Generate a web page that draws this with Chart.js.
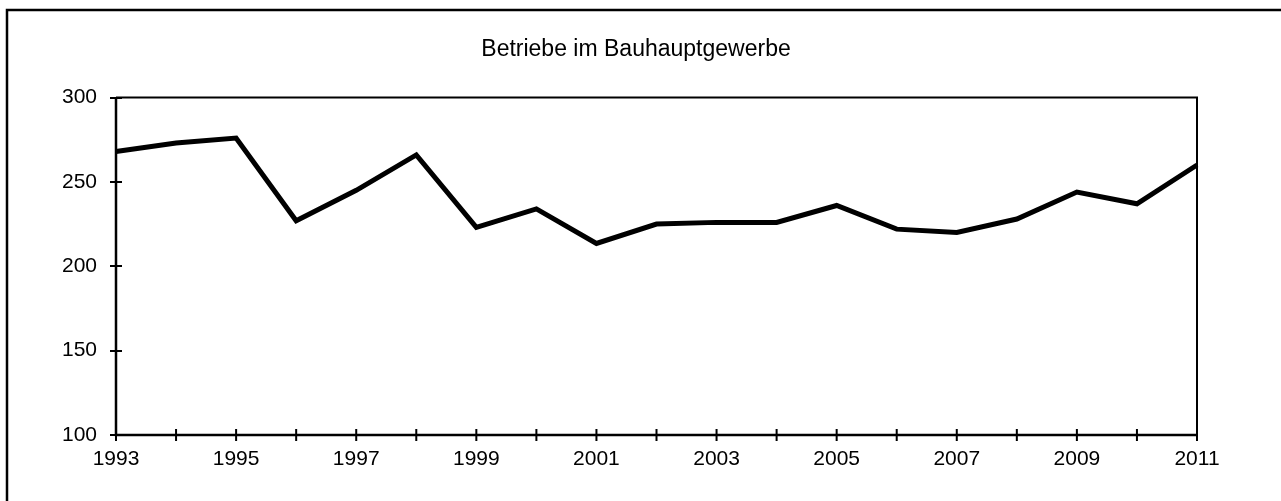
<!DOCTYPE html>
<html>
<head>
<meta charset="utf-8">
<script src="https://cdn.jsdelivr.net/npm/chart.js@4"></script>
<style>
  html, body { margin: 0; padding: 0; background: #fff; }
  #wrap { width: 1281px; height: 501px; position: relative; }
</style>
</head>
<body>
<div id="wrap"><canvas id="c" width="1281" height="501"></canvas></div>
<script>
const chartTitle = "Betriebe im Bauhauptgewerbe";
const years = ["1993","1994","1995","1996","1997","1998","1999","2000","2001","2002","2003","2004","2005","2006","2007","2008","2009","2010","2011"];
const betriebe = [268, 273, 276, 227, 245, 266, 223, 234, 213.5, 225, 226, 226, 236, 222, 220, 228, 244, 237, 260];
const yTicks = [100, 150, 200, 250, 300];
const xTickLabels = ["1993","1995","1997","1999","2001","2003","2005","2007","2009","2011"];

const FONT = "'Liberation Sans', Arial, sans-serif";

const decor = {
  id: 'decor',
  beforeDraw(chart) {
    const ctx = chart.ctx;
    ctx.save();
    ctx.fillStyle = '#fff';
    ctx.fillRect(0, 0, chart.width, chart.height);
    ctx.strokeStyle = '#000';
    ctx.lineWidth = 2.5;
    ctx.strokeRect(7, 10, chart.width + 10, chart.height + 10);
    // title
    ctx.fillStyle = '#000';
    ctx.font = "23px " + FONT;
    ctx.textAlign = 'center';
    ctx.textBaseline = 'middle';
    ctx.fillText(chartTitle, 636, 50);
    ctx.restore();
  },
  afterDatasetsDraw(chart) {
    const ctx = chart.ctx;
    const a = chart.chartArea;
    const xs = chart.scales.x, ys = chart.scales.y;
    ctx.save();
    ctx.strokeStyle = '#000';
    ctx.lineWidth = 2;
    ctx.beginPath();
    ctx.moveTo(a.left, a.top);
    ctx.lineTo(a.right, a.top);
    ctx.lineTo(a.right, a.bottom);
    ctx.stroke();
    ctx.lineWidth = 2.5;
    ctx.beginPath();
    ctx.moveTo(a.left, a.top);
    ctx.lineTo(a.left, a.bottom);
    ctx.lineTo(a.right, a.bottom);
    ctx.stroke();
    // crossing tick marks
    ctx.lineWidth = 2;
    ctx.beginPath();
    yTicks.forEach(v => {
      const y = Math.round(ys.getPixelForValue(v));
      ctx.moveTo(a.left - 6, y);
      ctx.lineTo(a.left + 6, y);
    });
    years.forEach((yr, i) => {
      const x = xs.getPixelForValue(i);
      ctx.moveTo(x, a.bottom - 6);
      ctx.lineTo(x, a.bottom + 6);
    });
    ctx.stroke();
    ctx.restore();
  }
};

new Chart(document.getElementById('c'), {
  type: 'line',
  data: {
    labels: years,
    datasets: [{
      data: betriebe,
      borderColor: '#000',
      borderWidth: 5,
      pointRadius: 0,
      tension: 0,
      fill: false,
      borderJoinStyle: 'miter',
      clip: false
    }]
  },
  options: {
    responsive: false,
    animation: false,
    devicePixelRatio: 1,
    layout: { padding: { left: 0, right: 84, top: 97.5, bottom: 0 } },
    plugins: {
      legend: { display: false },
      tooltip: { enabled: false },
      title: { display: false }
    },
    scales: {
      x: {
        type: 'category',
        grid: { display: false, drawTicks: false },
        border: { display: true, color: '#000', width: 2 },
        afterFit(scale) { scale.height = 66; },
        ticks: {
          autoSkip: false,
          maxRotation: 0,
          color: '#000',
          padding: 12,
          font: { family: FONT, size: 21 },
          callback(value, index) {
            const lab = years[index];
            return xTickLabels.includes(lab) ? lab : '';
          }
        }
      },
      y: {
        min: 100,
        max: 300,
        grid: { display: false, drawTicks: false },
        border: { display: true, color: '#000', width: 2 },
        afterFit(scale) { scale.width = 116; },
        afterBuildTicks(scale) { scale.ticks = yTicks.map(v => ({ value: v })); },
        ticks: {
          color: '#000',
          padding: 19,
          font: { family: FONT, size: 21 }
        }
      }
    }
  },
  plugins: [decor]
});
</script>
</body>
</html>
